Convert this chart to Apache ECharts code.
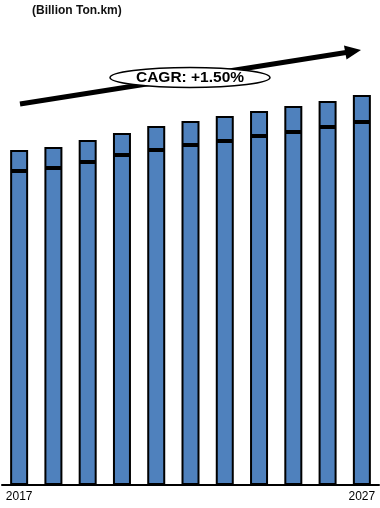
<!DOCTYPE html>
<html>
<head>
<meta charset="utf-8">
<script src="https://cdn.jsdelivr.net/npm/echarts@6/dist/echarts.min.js"></script>
<style>
html,body{margin:0;padding:0;background:#fff;}
#chart{width:380px;height:508px;}
</style>
</head>
<body>
<div id="chart"></div>
<script>
var categories = ['2017','2018','2019','2020','2021','2022','2023','2024','2025','2026','2027'];
var lowerValues = [314, 317, 323, 330, 335, 340, 344, 349, 353, 358, 363];
var upperValues = [21, 21, 22, 22, 24, 24, 25, 25, 26, 26, 27];
var unitLabel = '(Billion Ton.km)';
var cagrLabel = 'CAGR: +1.50%';

var chart = echarts.init(document.getElementById('chart'), null, {renderer:'canvas'});
var barStyle = {color:'#4F81BD', borderColor:'#000', borderWidth:2};
var option = {
  animation:false,
  grid:{left:2, right:1, top:85, bottom:23, containLabel:false},
  xAxis:{
    type:'category', data:categories,
    axisLine:{lineStyle:{color:'#000', width:2}},
    axisTick:{show:false},
    axisLabel:{
      interval:function(i){return i===0 || i===categories.length-1;},
      color:'#000', fontFamily:'Liberation Sans, Arial', fontSize:12, margin:6
    }
  },
  yAxis:{type:'value', min:0, max:400, show:false, splitLine:{show:false}},
  series:[
    {type:'bar', stack:'t', data:lowerValues, barWidth:18, itemStyle:barStyle},
    {type:'bar', stack:'t', data:upperValues, barWidth:18, itemStyle:barStyle}
  ],
  graphic:[
    {type:'text', left:32, top:5, style:{text:unitLabel, fontFamily:'Liberation Sans, Arial', fontWeight:'bold', fontSize:12, fill:'#111'}},
    {type:'line', shape:{x1:20, y1:104, x2:346, y2:52.5}, style:{stroke:'#000', lineWidth:5}, z:10},
    {type:'polygon', shape:{points:[[361,50],[346.5,59.6],[344,45.4]]}, style:{fill:'#000'}, z:10},
    {type:'ellipse', shape:{cx:190, cy:77.5, rx:80, ry:10}, style:{fill:'#fff', stroke:'#000', lineWidth:1.5}, z:11},
    {type:'text', x:190, y:77.5, style:{text:cagrLabel, align:'center', verticalAlign:'middle', fontFamily:'Liberation Sans, Arial', fontWeight:'bold', fontSize:15.5, fill:'#000'}, z:12}
  ]
};
chart.setOption(option);
</script>
</body>
</html>
